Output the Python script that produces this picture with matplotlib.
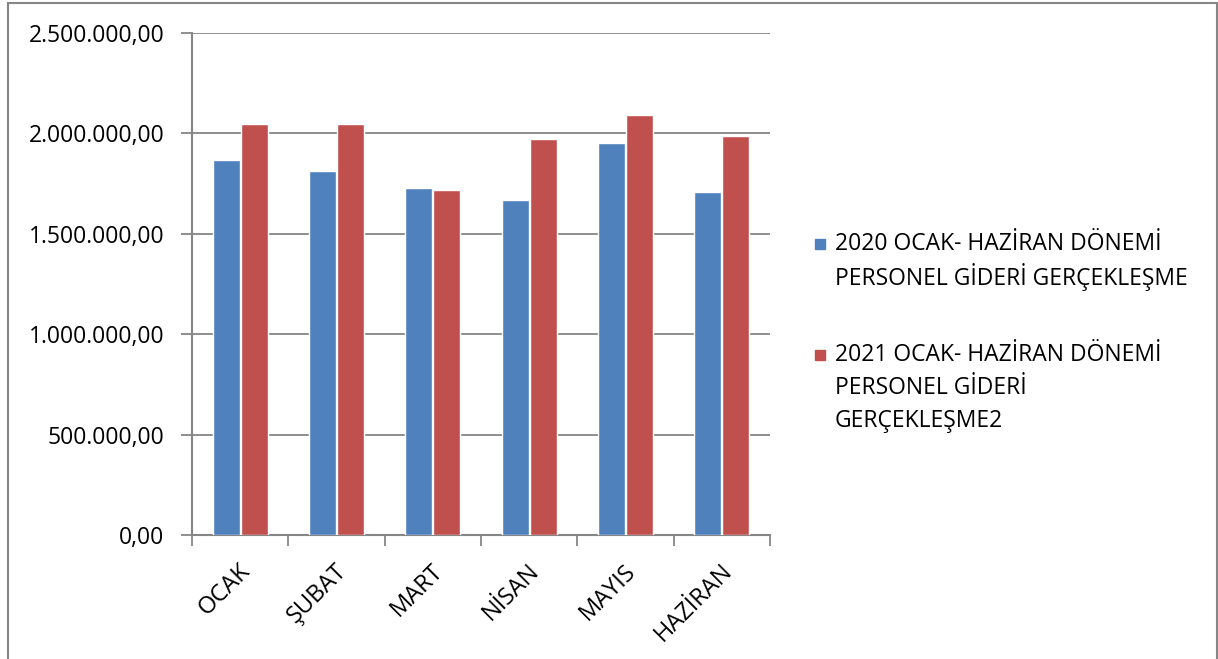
import numpy as np
import matplotlib.pyplot as plt
from matplotlib.patches import Rectangle
from matplotlib.ticker import FuncFormatter

plt.rcParams['font.family'] = ['Open Sans', 'DejaVu Sans']

months = ['OCAK', 'ŞUBAT', 'MART', 'NİSAN', 'MAYIS', 'HAZİRAN']
gider_2020 = [1870000, 1815000, 1727000, 1668000, 1950000, 1706000]
gider_2021 = [2048000, 2047000, 1717000, 1974000, 2090000, 1986000]
label_2020 = ['2020 OCAK- HAZİRAN DÖNEMİ', 'PERSONEL GİDERİ GERÇEKLEŞME']
label_2021 = ['2021 OCAK- HAZİRAN DÖNEMİ', 'PERSONEL GİDERİ', 'GERÇEKLEŞME2']

blue = '#4F81BD'
red = '#C0504D'
grey = '#868686'


def tr_fmt(v, pos):
    s = '{:,.2f}'.format(v)
    return s.replace(',', 'X').replace('.', ',').replace('X', '.')


W, H = 1218, 659
fig = plt.figure(figsize=(W / 100, H / 100), dpi=100)
ax = fig.add_axes([192 / W, (H - 535) / H, (770 - 192) / W, (535 - 33) / H])

x = np.arange(len(months))
bw = 0.28
ax.bar(x - 0.145, gider_2020, bw, color=blue, edgecolor='white', linewidth=1, zorder=3)
ax.bar(x + 0.145, gider_2021, bw, color=red, edgecolor='white', linewidth=1, zorder=3)

ax.set_xlim(-0.5, len(months) - 0.5)
ax.set_ylim(0, 2500000)
ax.set_yticks(np.arange(0, 2500001, 500000))
ax.yaxis.set_major_formatter(FuncFormatter(tr_fmt))
ax.grid(axis='y', color=grey, linewidth=1.3, zorder=0)

for s in ['top', 'right']:
    ax.spines[s].set_visible(False)
for s in ['left', 'bottom']:
    ax.spines[s].set_color(grey)
    ax.spines[s].set_linewidth(1.5)

fs = 16.5
ax.tick_params(axis='y', length=8, width=1.3, color=grey, labelsize=fs, pad=12)
ax.set_xticks(np.arange(-0.5, len(months), 1.0))
ax.set_xticklabels([])
ax.tick_params(axis='x', length=8, width=1.3, color=grey)
for i, m in enumerate(months):
    ax.text(i + 0.07, -0.065, m, transform=ax.get_xaxis_transform(),
            rotation=45, ha='right', va='center', rotation_mode='anchor',
            fontsize=fs + 0.5)

# legend, drawn by hand so the square sits on the first line
lx = 835 / W
y0 = H - 244
for j, line in enumerate(label_2020):
    fig.text(lx, (y0 - j * 33) / H, line, fontsize=fs, va='center', ha='left')
fig.patches.append(Rectangle((815 / W, (y0 - 5) / H), 10 / W, 10 / H,
                             transform=fig.transFigure, color=blue))
y1 = H - 355
for j, line in enumerate(label_2021):
    fig.text(lx, (y1 - j * 33) / H, line, fontsize=fs, va='center', ha='left')
fig.patches.append(Rectangle((815 / W, (y1 - 5) / H), 10 / W, 10 / H,
                             transform=fig.transFigure, color=red))

# chart border
fig.patches.append(Rectangle((8 / W, -0.05), (1217 - 8) / W, 1.05 - 3 / H,
                             transform=fig.transFigure, fill=False,
                             edgecolor=grey, linewidth=1.5))

fig.savefig('out.png', dpi=100)
